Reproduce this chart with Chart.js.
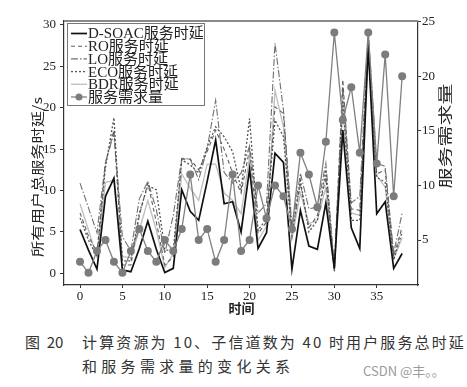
<!DOCTYPE html>
<html>
<head>
<meta charset="utf-8">
<script src="https://cdn.jsdelivr.net/npm/chart.js@4.4.1/dist/chart.umd.min.js"></script>
<style>
  body { margin: 0; background: #fff; width: 467px; height: 387px; position: relative; overflow: hidden; }
  #wrap { position: absolute; left: 0; top: 0; width: 467px; height: 318px; }
  .cap { position: absolute; color: #333; font-size: 15px; line-height: 1; white-space: nowrap;
         font-family: "Noto Sans CJK SC", sans-serif; }
  .mark { position: absolute; color: #9a9a9a; font-size: 13px; line-height: 1; white-space: nowrap;
          font-family: "Noto Sans CJK SC", sans-serif; }
</style>
</head>
<body>
<div id="wrap"><canvas id="chart" width="467" height="318"></canvas></div>
<div class="cap" style="left:25px;top:334px">图&nbsp;&nbsp;20</div>
<div class="cap" id="cap1" style="left:82px;top:334px">计算资源为 10、子信道数为 40 时用户服务总时延</div>
<div class="cap" style="left:82px;top:358px;letter-spacing:4.3px">和服务需求量的变化关系</div>
<div class="mark" style="left:363px;top:364px">CSDN @丰。。</div>
<script>
// time steps
const timeSteps = [0, 1, 2, 3, 4, 5, 6, 7, 8, 9, 10, 11, 12, 13, 14, 15, 16, 17, 18, 19,
  20, 21, 22, 23, 24, 25, 26, 27, 28, 29, 30, 31, 32, 33, 34, 35, 36, 37, 38];

// total service delay (s)
const dsoacDelay = [5.3, 2.8, 0.5, 9.3, 11.5, 0.4, 0.2, 3.0, 6.3, 2.9, 0.1, 0.6, 10.1, 7.5, 6.4, 11.1, 16.1, 8.4, 8.65, 5.0,
  12.6, 3.0, 4.9, 14.5, 13.4, 0.5, 7.6, 3.3, 2.9, 8.5, 0.6, 17.3, 5.5, 3.0, 27.5, 7.2, 8.65, 0.6, 2.4];
const roDelay = [7.3, 4.5, 2.5, 13.3, 17.3, 1.0, 1.0, 7.0, 10.9, 6.2, 1.0, 2.0, 13.8, 13.8, 12.5, 14.7, 17.3, 15.0, 12.1, 9.7,
  15.0, 4.8, 6.2, 20.1, 19.3, 5.0, 10.8, 5.5, 7.0, 11.5, 0.5, 23.4, 7.8, 7.6, 28.5, 12.0, 12.5, 2.0, 5.6];
const loDelay = [10.9, 7.9, 4.9, 13.4, 16.9, 4.4, 2.7, 9.0, 11.1, 7.7, 2.4, 7.0, 13.9, 13.8, 11.3, 15.1, 20.9, 12.2, 10.9, 12.1,
  15.4, 7.3, 8.4, 27.8, 19.7, 5.6, 12.1, 7.8, 8.0, 13.3, 0.8, 22.5, 8.5, 9.3, 29.3, 13.3, 12.9, 2.4, 7.3];
const ecoDelay = [6.7, 4.0, 2.0, 12.8, 18.8, 1.5, 1.5, 7.3, 10.6, 10.1, 2.8, 2.8, 13.7, 13.1, 12.1, 15.3, 17.7, 16.5, 14.7, 10.1,
  18.7, 5.2, 6.6, 18.5, 16.5, 4.5, 11.2, 5.0, 6.4, 12.5, 0.3, 20.9, 6.4, 6.4, 27.5, 11.6, 11.0, 1.6, 5.0];
const bdrDelay = [8.4, 5.2, 2.0, 11.0, 11.2, 2.0, 1.9, 5.3, 8.8, 5.2, 0.7, 2.4, 12.0, 10.3, 8.8, 13.2, 13.2, 9.7, 8.8, 7.2,
  14.0, 4.0, 5.7, 22.1, 17.7, 4.2, 9.7, 6.0, 6.4, 10.4, 0.2, 20.1, 7.3, 7.0, 26.5, 11.8, 10.4, 1.8, 4.3];

// service demand (right axis)
const demand = [3, 2, 4, 5, 3, 2, 4, 6, 4, 3, 5, 4, 6, 11, 5, 6, 3, 5, 11, 4,
  5, 10, 7, 10, 9, 6, 13, 11, 8, 14, 24, 16, 19, 13, 24, 12, 22, 9, 20];

// tick labels
const xTicks = [0, 5, 10, 15, 20, 25, 30, 35];
const leftTicks = [0, 5, 10, 15, 20, 25, 30];
const rightTicks = [5, 10, 15, 20, 25];

const pts = vals => timeSteps.map((t, i) => ({ x: t, y: vals[i] }));
const tickFont = { family: '"Liberation Serif", serif', size: 13 };

// fit the caption's first line to the printed width
const cap1 = document.getElementById('cap1');
const n = cap1.textContent.length;
cap1.style.letterSpacing = ((384 - cap1.getBoundingClientRect().width) / n) + 'px';

const lineDefaults = { fill: false, tension: 0, pointRadius: 0, pointHoverRadius: 0 };

// rotated title stretched to the length it has in the print
function sideTitle(ctx, text, font, cx, cy, len) {
  ctx.save();
  ctx.font = font;
  const k = len / ctx.measureText(text).width;
  ctx.translate(cx, cy);
  ctx.rotate(-Math.PI / 2);
  ctx.scale(k, 1);
  ctx.fillText(text, 0, 0);
  ctx.restore();
}

const extras = {
  id: 'extras',
  afterDraw(chart) {
    const ctx = chart.ctx;
    const a = chart.chartArea;
    ctx.save();
    // top frame line
    ctx.strokeStyle = '#8a8a8a';
    ctx.lineWidth = 2;
    ctx.beginPath(); ctx.moveTo(a.left, a.top); ctx.lineTo(a.right, a.top); ctx.stroke();

    // legend box
    const x0 = 67, y0 = 23, w = 137, h = 82;
    ctx.fillStyle = '#fff';
    ctx.fillRect(x0, y0, w, h);
    ctx.strokeStyle = '#777';
    ctx.lineWidth = 1;
    ctx.strokeRect(x0 + 0.5, y0 + 0.5, w, h);
    chart.data.datasets.forEach((ds, i) => {
      const cy = 33.5 + i * 12.7;
      ctx.setLineDash(ds.borderDash || []);
      ctx.strokeStyle = ds.borderColor;
      ctx.lineWidth = ds.borderWidth;
      ctx.beginPath(); ctx.moveTo(71, cy); ctx.lineTo(87, cy); ctx.stroke();
      ctx.setLineDash([]);
      if (ds.pointRadius > 0) {
        ctx.fillStyle = ds.pointBackgroundColor;
        ctx.beginPath(); ctx.arc(79, cy, 3.5, 0, Math.PI * 2); ctx.fill();
      }
      ctx.fillStyle = '#222';
      ctx.font = '15px "Liberation Serif", "Noto Sans CJK SC"';
      ctx.textBaseline = 'middle';
      ctx.textAlign = 'left';
      ctx.fillText(ds.label, 88, cy + 1);
    });

    // axis titles
    ctx.fillStyle = '#222';
    ctx.textAlign = 'center';
    ctx.textBaseline = 'middle';
    sideTitle(ctx, '所有用户总服务时延/s', '13px "Noto Sans CJK SC"', 37, 177, 160);
    sideTitle(ctx, '服务需求量', '14px "Noto Sans CJK SC"', 445, 136, 105);
    ctx.font = 'bold 13px "Noto Sans CJK SC"';
    ctx.fillText('时间', 241.5, 308);
    ctx.restore();
  }
};

new Chart(document.getElementById('chart'), {
  type: 'line',
  data: {
    datasets: [
      { ...lineDefaults, label: 'D-SOAC服务时延', data: pts(dsoacDelay), borderColor: '#111', borderWidth: 1.7, yAxisID: 'y', order: 1 },
      { ...lineDefaults, label: 'RO服务时延', data: pts(roDelay), borderColor: '#606060', borderWidth: 1.1, borderDash: [4, 3], yAxisID: 'y', order: 3 },
      { ...lineDefaults, label: 'LO服务时延', data: pts(loDelay), borderColor: '#707070', borderWidth: 1.1, borderDash: [7, 2, 1.5, 2], yAxisID: 'y', order: 4 },
      { ...lineDefaults, label: 'ECO服务时延', data: pts(ecoDelay), borderColor: '#555', borderWidth: 1.3, borderDash: [2, 2], yAxisID: 'y', order: 2 },
      { ...lineDefaults, label: 'BDR服务时延', data: pts(bdrDelay), borderColor: '#bdbdbd', borderWidth: 1.3, yAxisID: 'y', order: 5 },
      { label: '服务需求量', data: pts(demand), borderColor: '#808080', borderWidth: 1.3, fill: false, tension: 0,
        pointRadius: 4, pointBackgroundColor: '#7c7c7c', pointBorderColor: '#7c7c7c', pointBorderWidth: 0,
        yAxisID: 'y1', order: 0 }
    ]
  },
  options: {
    responsive: false,
    animation: false,
    layout: { padding: { top: 21, left: 0, right: 0, bottom: 0 } },
    plugins: { legend: { display: false }, tooltip: { enabled: false } },
    scales: {
      x: {
        type: 'linear', min: -1.89, max: 39.87,
        afterBuildTicks: s => { s.ticks = xTicks.map(v => ({ value: v })); },
        afterFit: s => { s.height = 33; },
        grid: { drawOnChartArea: false, tickLength: 3, color: '#333' },
        border: { display: true, color: '#333', width: 1.2 },
        ticks: { font: tickFont, color: '#222', padding: 1, maxRotation: 0 }
      },
      y: {
        position: 'left', min: -1.41, max: 30.48,
        afterBuildTicks: s => { s.ticks = leftTicks.map(v => ({ value: v })); },
        afterFit: s => { s.width = 64; },
        grid: { drawOnChartArea: false, tickLength: 4, color: '#333' },
        border: { display: true, color: '#333', width: 1.2 },
        ticks: { font: tickFont, color: '#222', padding: 4 }
      },
      y1: {
        position: 'right', min: 0.88, max: 25.06,
        afterBuildTicks: s => { s.ticks = rightTicks.map(v => ({ value: v })); },
        afterFit: s => { s.width = 49; },
        grid: { drawOnChartArea: false, tickLength: 3, color: '#333' },
        border: { display: true, color: '#333', width: 1.2 },
        ticks: { font: tickFont, color: '#222', padding: 1 }
      }
    }
  },
  plugins: [extras]
});
</script>
</body>
</html>
